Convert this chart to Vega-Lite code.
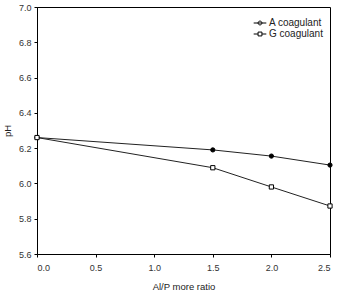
{
  "$schema": "https://vega.github.io/schema/vega-lite/v6.json",
  "autosize": "none",
  "padding": {"left": 37, "top": 7, "right": 7, "bottom": 36},
  "width": 293,
  "height": 247,
  "background": "white",
  "config": {
    "view": {"stroke": "black", "strokeWidth": 1},
    "font": "Liberation Sans",
    "axis": {"grid": false, "domainColor": "black", "tickColor": "black", "tickSize": 3, "labelFontSize": 9, "labelColor": "#333", "titleFontSize": 9.5, "titleFontWeight": "normal", "titleColor": "#222", "labelFont": "Liberation Sans", "titleFont": "Liberation Sans"}
  },
  "data": {"values": [
    {"ratio": 0.0, "pH": 6.26, "series": "A coagulant"},
    {"ratio": 1.5, "pH": 6.19, "series": "A coagulant"},
    {"ratio": 2.0, "pH": 6.155, "series": "A coagulant"},
    {"ratio": 2.5, "pH": 6.104, "series": "A coagulant"},
    {"ratio": 0.0, "pH": 6.26, "series": "G coagulant"},
    {"ratio": 1.5, "pH": 6.089, "series": "G coagulant"},
    {"ratio": 2.0, "pH": 5.98, "series": "G coagulant"},
    {"ratio": 2.5, "pH": 5.872, "series": "G coagulant"}
  ]},
  "encoding": {
    "x": {"field": "ratio", "type": "quantitative", "scale": {"domain": [0, 2.5], "nice": false, "zero": false}, "axis": {"values": [0, 0.5, 1, 1.5, 2, 2.5], "format": ".1f", "title": "Al/P more ratio", "labelPadding": 6, "titlePadding": 9}},
    "y": {"field": "pH", "type": "quantitative", "scale": {"domain": [5.6, 7.0], "nice": false, "zero": false}, "axis": {"values": [5.6, 5.8, 6.0, 6.2, 6.4, 6.6, 6.8, 7.0], "format": ".1f", "title": "pH", "labelPadding": 3, "titlePadding": 6}}
  },
  "layer": [
    {
      "mark": {"type": "line", "color": "#222", "strokeWidth": 1},
      "encoding": {"detail": {"field": "series"}}
    },
    {
      "mark": {"type": "point", "filled": false, "stroke": "black", "strokeWidth": 1, "opacity": 1, "size": 18},
      "encoding": {
        "shape": {"condition": {"test": "datum.series === 'A coagulant'", "value": "circle"}, "value": "square"},
        "fill": {"condition": {"test": "datum.series === 'A coagulant'", "value": "black"}, "value": "white"}
      }
    },
    {
      "mark": {"type": "point", "filled": false, "stroke": "black", "strokeWidth": 1, "opacity": 0, "size": 18},
      "encoding": {
        "shape": {"field": "series", "type": "nominal",
          "scale": {"domain": ["A coagulant", "G coagulant"], "range": ["M-1.15,0H1.15M-0.35,0A0.35,0.35 0 1,0 0.35,0A0.35,0.35 0 1,0 -0.35,0Z", "M-1.15,0H-0.35M0.35,0H1.15M-0.35,-0.35H0.35V0.35H-0.35Z"]},
          "legend": {"title": null, "orient": "none", "direction": "vertical", "columns": 1, "legendX": 217, "legendY": 10, "labelFontSize": 10, "labelColor": "#222", "labelFont": "Liberation Sans", "symbolSize": 121, "symbolStrokeColor": "black", "symbolStrokeWidth": 1, "rowPadding": 0, "labelOffset": 3,
            "encode": {"symbols": {
              "fill": {"condition": {"test": "datum.value === 'A coagulant'", "value": "black"}, "value": "white"},
              "stroke": {"value": "black"},
              "strokeWidth": {"value": 1},
              "opacity": {"value": 1}
            }}}}
      }
    }
  ]
}
